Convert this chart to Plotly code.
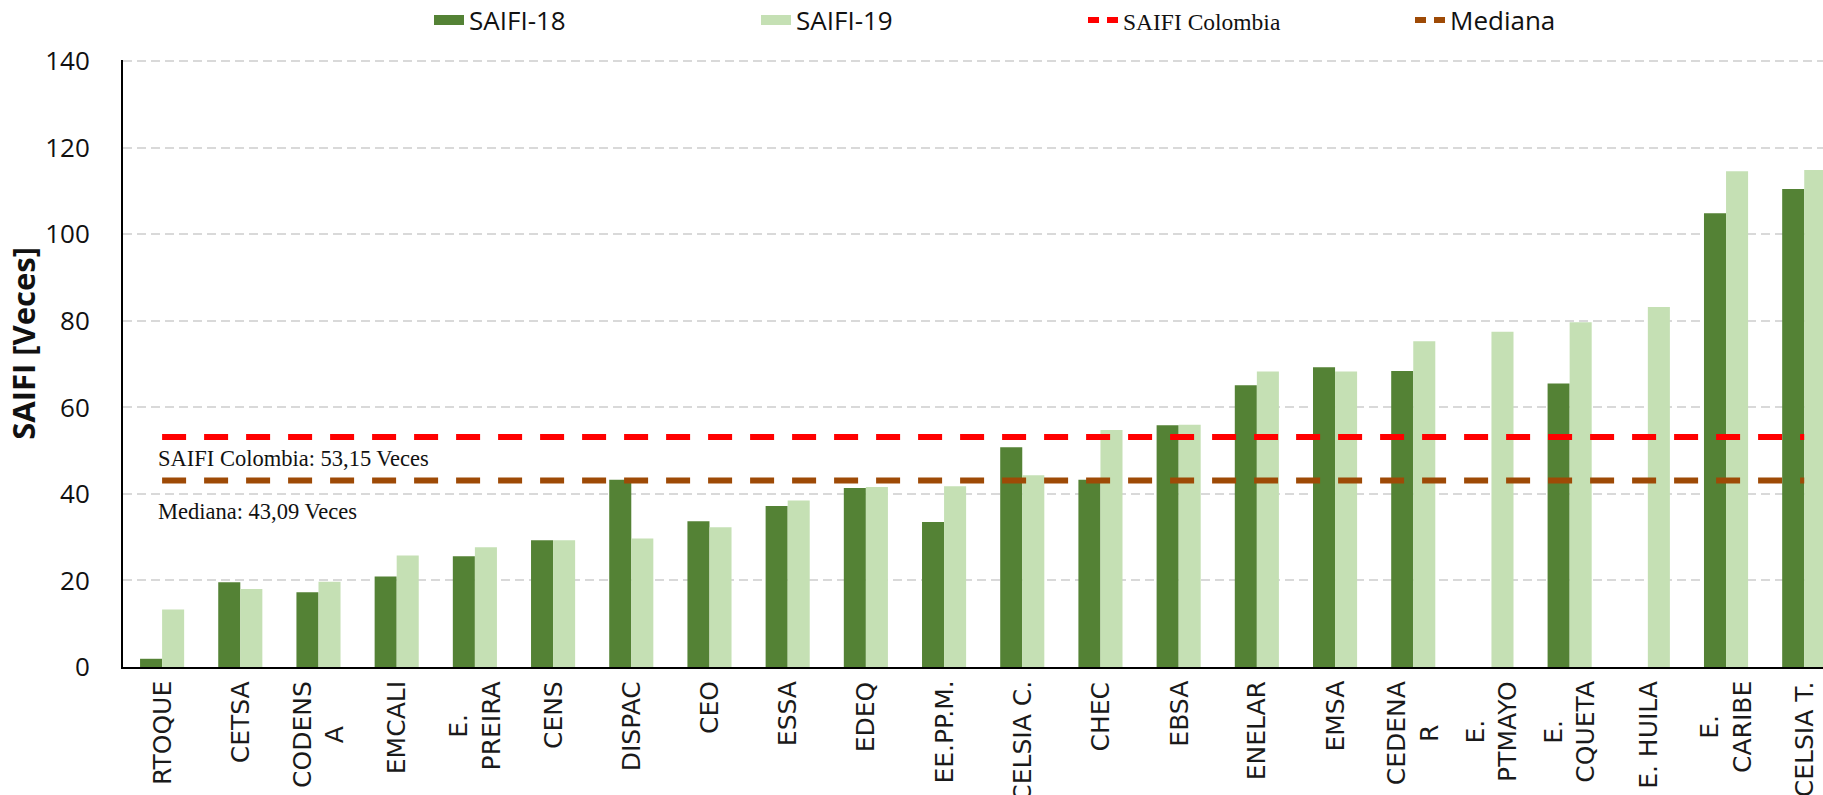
import plotly.graph_objects as go

# ---------------- data ----------------
categories = ["RTOQUE", "CETSA", "CODENSA", "EMCALI", "E. PREIRA", "CENS", "DISPAC",
              "CEO", "ESSA", "EDEQ", "EE.PP.M.", "CELSIA C.", "CHEC", "EBSA", "ENELAR",
              "EMSA", "CEDENAR", "E. PTMAYO", "E. CQUETA", "E. HUILA", "E. CARIBE", "CELSIA T."]
tick_labels = ["RTOQUE", "CETSA", "CODENS<br>A", "EMCALI", "E.<br>PREIRA", "CENS", "DISPAC",
               "CEO", "ESSA", "EDEQ", "EE.PP.M.", "CELSIA C.", "CHEC", "EBSA", "ENELAR",
               "EMSA", "CEDENA<br>R", "E.<br>PTMAYO", "E.<br>CQUETA", "E. HUILA", "E.<br>CARIBE", "CELSIA T."]
saifi18 = [1.9, 19.6, 17.3, 20.9, 25.6, 29.3, 43.3, 33.7, 37.2, 41.4, 33.5, 50.8, 43.3, 55.9,
           65.1, 69.3, 68.4, None, 65.5, None, 104.9, 110.5]
saifi19 = [13.3, 18.0, 19.7, 25.8, 27.7, 29.3, 29.7, 32.3, 38.5, 41.6, 41.8, 44.3, 54.8, 56.0,
           68.3, 68.3, 75.3, 77.5, 79.7, 83.2, 114.6, 114.9]
saifi_colombia = 53.15
mediana = 43.09
y_ticks = [0, 20, 40, 60, 80, 100, 120, 140]

# ---------------- styles ----------------
DARK = "#548235"
LIGHT = "#C5E0B4"
RED = "#FF0000"
BROWN = "#9E4A06"
SERIF = "Liberation Serif"
W, H = 1823, 795

fig = go.Figure()
fig.add_bar(x=categories, y=saifi18, marker=dict(color=DARK, line=dict(width=0)),
            name="SAIFI-18", showlegend=False)
fig.add_bar(x=categories, y=saifi19, marker=dict(color=LIGHT, line=dict(width=0)),
            name="SAIFI-19", showlegend=False)
fig.add_scatter(x=categories, y=[saifi_colombia] * len(categories), mode="lines",
                line=dict(color=RED, width=6, dash="24px,18px"), showlegend=False,
                name="SAIFI Colombia")
fig.add_scatter(x=categories, y=[mediana] * len(categories), mode="lines",
                line=dict(color=BROWN, width=6, dash="24px,18px"), showlegend=False,
                name="Mediana")

# legend entries
legend_items = [
    ("SAIFI-18", DARK, "solid", 14),
    ("SAIFI-19", LIGHT, "solid", 14),
    ('<span style="font-family:%s;font-size:23.5px">SAIFI Colombia</span>' % SERIF, RED, "11px,8px", 6),
    ("Mediana", BROWN, "11px,8px", 6),
]
for name, color, dash, w in legend_items:
    fig.add_scatter(x=[None], y=[None], mode="lines", name=name,
                    line=dict(color=color, width=w, dash=dash), showlegend=True)

annotations = []
for cat, lab in zip(categories, tick_labels):
    annotations.append(dict(x=cat, xref="x", y=0, yref="paper", yanchor="top", xanchor="center",
                            yshift=-12, textangle=-90, text=lab, showarrow=False, align="center",
                            font=dict(family="DejaVu Sans", size=25, color="#1a1a1a")))
annotations.append(dict(x=-0.08, xref="x", y=48.3, yref="y", xanchor="left", yanchor="middle",
                        text="SAIFI Colombia: 53,15 Veces", showarrow=False,
                        font=dict(family=SERIF, size=22.5, color="#111111")))
annotations.append(dict(x=-0.08, xref="x", y=36.0, yref="y", xanchor="left", yanchor="middle",
                        text="Mediana: 43,09 Veces", showarrow=False,
                        font=dict(family=SERIF, size=22.5, color="#111111")))
annotations.append(dict(x=-100 / 1700, xref="paper", y=74.7, yref="y", xanchor="center",
                        yanchor="middle", textangle=-90, text="<b>SAIFI [Veces]</b>",
                        showarrow=False, font=dict(family="Open Sans", size=31, color="#111111")))

fig.update_layout(
    width=W, height=H,
    margin=dict(l=123, r=0, t=60, b=128, autoexpand=False),
    paper_bgcolor="white", plot_bgcolor="white",
    font=dict(family="Open Sans", size=22, color="#111111"),
    barmode="group", bargap=0.436, bargroupgap=0,
    showlegend=True,
    legend=dict(orientation="h", xref="container", yref="container",
                x=429 / W, xanchor="left", y=1 - 20 / H, yanchor="middle",
                entrywidth=282, entrywidthmode="pixels", font=dict(size=26),
                bgcolor="rgba(0,0,0,0)", traceorder="normal"),
    annotations=annotations,
)
fig.update_xaxes(type="category", range=[-0.5, 21.24], showticklabels=False, ticks="",
                 showline=True, linecolor="black", linewidth=2, showgrid=False, zeroline=False)
fig.update_yaxes(range=[0, 140.3], tickvals=y_ticks, showline=True, linecolor="black", linewidth=2,
                 showgrid=True, gridcolor="#D9D9D9", gridwidth=2, griddash="9px,5px",
                 zeroline=False, ticks="", ticklabelstandoff=26,
                 tickfont=dict(family="Open Sans", size=26))

fig.write_html("out.html", config={"displayModeBar": False},
               post_script="document.body.style.margin='0px';document.body.style.overflow='hidden';")
